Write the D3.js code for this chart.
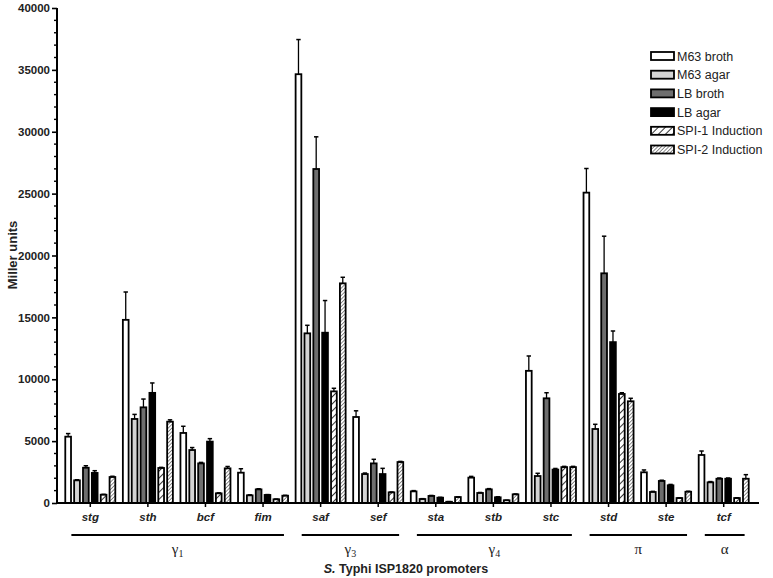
<!DOCTYPE html>
<html><head><meta charset="utf-8">
<script src="https://cdn.jsdelivr.net/npm/d3@7"></script>
<style>body{margin:0;background:#fff}svg{display:block}</style>
</head><body>
<svg id="chart" width="773" height="578"></svg>
<script>
const promoters = ["stg","sth","bcf","fim","saf","sef","sta","stb","stc","std","ste","tcf"];
const conditions = ["M63 broth","M63 agar","LB broth","LB agar","SPI-1 Induction","SPI-2 Induction"];
const m63Broth    = [5360, 14800, 5660, 2450, 34650, 6950,  940, 2050, 10680, 25080, 2480, 3880];
const m63BrothErr = [ 250,  2250,  540,  320,  2800,  500,   60,  100,  1200,  1950,  190,  320];
const m63Agar     = [1830,  6790, 4280,  620, 13710, 2340,  320,  810,  2180,  5980,  890, 1670];
const m63AgarErr  = [  50,   370,  200,   40,   650,   80,   30,   40,   220,   380,   50,   60];
const lbBroth     = [2850,  7730, 3200, 1100, 26990, 3200,  570, 1100,  8460, 18560, 1780, 1960];
const lbBrothErr  = [ 160,   670,   80,   50,  2600,  330,   40,   60,   450,  3000,   60,   60];
const lbAgar      = [2430,  8900, 4960,  650, 13760, 2340,  430,  460,  2700, 13000, 1430, 1960];
const lbAgarErr   = [ 180,   800,  240,   30,  2600,  460,   30,   40,    90,   900,   70,   60];
const spi1        = [ 670,  2830,  780,  300,  9020,  860,  100,  220,  2900,  8810,  400,  400];
const spi1Err     = [  30,    50,   40,   20,   250,   30,   10,   10,    60,   100,   20,   20];
const spi2        = [2100,  6570, 2800,  590, 17750, 3310,  480,  700,  2900,  8220,  910, 1960];
const spi2Err     = [  60,   150,  150,   30,   490,   50,   20,   30,    60,   240,   40,  330];
const families = [
  {name:"γ", sub:"1", from:"stg", to:"fim"},
  {name:"γ", sub:"3", from:"saf", to:"sef"},
  {name:"γ", sub:"4", from:"sta", to:"stc"},
  {name:"π", sub:"",  from:"std", to:"ste"},
  {name:"α", sub:"",  from:"tcf", to:"tcf"}
];
const yMajorTicks = [0,5000,10000,15000,20000,25000,30000,35000,40000];

const series = [m63Broth,m63Agar,lbBroth,lbAgar,spi1,spi2];
const errs = [m63BrothErr,m63AgarErr,lbBrothErr,lbAgarErr,spi1Err,spi2Err];

const svg = d3.select("#chart");
const defs = svg.append("defs");
function hatch(id, spacing, sw){
  const p = defs.append("pattern").attr("id",id).attr("patternUnits","userSpaceOnUse")
    .attr("width",spacing).attr("height",spacing).attr("patternTransform","rotate(45)");
  p.append("rect").attr("width",spacing).attr("height",spacing).attr("fill","#fff");
  p.append("line").attr("x1",0).attr("y1",0).attr("x2",0).attr("y2",spacing)
    .attr("stroke","#000").attr("stroke-width",sw);
}
hatch("h1",5,1.6);
hatch("h2",2.6,0.9);
const fills = ["#ffffff","#d4d4d4","#6e6e6e","#000000","url(#h1)","url(#h2)"];

const x0 = d3.scaleBand().domain(promoters).range([61.5,752.5]).paddingInner(0.1).paddingOuter(0.05);
const x1 = d3.scaleBand().domain(conditions).range([0,x0.bandwidth()]).paddingInner(0.15);
const y = d3.scaleLinear().domain([0,40000]).range([503,8]);

const sans = "'Liberation Sans', Arial, Helvetica, sans-serif";

// bars
const rows = [];
promoters.forEach((p,i)=>conditions.forEach((c,j)=>rows.push({p,c,j,v:series[j][i],e:errs[j][i]})));
const g = svg.append("g");
g.selectAll("rect.bar").data(rows).join("rect").attr("class","bar")
  .attr("x",d=>x0(d.p)+x1(d.c)+0.9).attr("width",x1.bandwidth()-1.8)
  .attr("y",d=>y(d.v)).attr("height",d=>y(0)-y(d.v))
  .attr("fill",d=>fills[d.j]).attr("stroke","#000").attr("stroke-width",1.8);
// error bars
const eg = g.selectAll("g.err").data(rows).join("g").attr("class","err");
eg.append("line").attr("x1",d=>x0(d.p)+x1(d.c)+x1.bandwidth()/2).attr("x2",d=>x0(d.p)+x1(d.c)+x1.bandwidth()/2)
  .attr("y1",d=>y(d.v)).attr("y2",d=>y(d.v+d.e)).attr("stroke","#000").attr("stroke-width",1.3);
eg.append("line").attr("x1",d=>x0(d.p)+x1(d.c)+x1.bandwidth()/2-2.2).attr("x2",d=>x0(d.p)+x1(d.c)+x1.bandwidth()/2+2.2)
  .attr("y1",d=>y(d.v+d.e)).attr("y2",d=>y(d.v+d.e)).attr("stroke","#000").attr("stroke-width",1.5);

// y axis
const minor = d3.range(0,40001,1000).filter(v=>v%5000!==0);
const ax = svg.append("g").attr("transform","translate(57,0)");
ax.call(d3.axisLeft(y).tickValues(yMajorTicks).tickSize(5).tickPadding(2).tickFormat(d3.format("d")));
ax.select(".domain").attr("stroke-width",2).attr("d",`M0,${y(40000)}V${y(0)}`);
ax.selectAll(".tick line").attr("stroke-width",1.6);
ax.selectAll(".tick text").attr("font-family",sans).attr("font-weight","bold").attr("font-size","11.5px").attr("fill","#222");
ax.selectAll("line.minor").data(minor).join("line").attr("class","minor")
  .attr("x1",-3).attr("x2",0).attr("y1",d=>y(d)).attr("y2",d=>y(d)).attr("stroke","#000").attr("stroke-width",1.4);

// x axis
const xa = svg.append("g").attr("transform",`translate(0,${y(0)})`);
xa.append("line").attr("x1",56).attr("x2",759).attr("stroke","#000").attr("stroke-width",2);
xa.selectAll("line.xt").data(promoters).join("line").attr("class","xt")
  .attr("x1",d=>x0(d)+x0.bandwidth()/2).attr("x2",d=>x0(d)+x0.bandwidth()/2)
  .attr("y1",0).attr("y2",4).attr("stroke","#000").attr("stroke-width",1.5);
xa.selectAll("text.xl").data(promoters).join("text").attr("class","xl")
  .attr("x",d=>x0(d)+x0.bandwidth()/2).attr("y",18).attr("text-anchor","middle")
  .attr("font-family",sans).attr("font-weight","bold").attr("font-style","italic").attr("font-size","11.5px").attr("fill","#222")
  .text(d=>d);

// family brackets
const fg = svg.selectAll("g.fam").data(families).join("g").attr("class","fam");
fg.append("line").attr("x1",d=>x0(d.from)+7).attr("x2",d=>x0(d.to)+x0.bandwidth()-5)
  .attr("y1",535).attr("y2",535).attr("stroke","#000").attr("stroke-width",2.2);
const ft = fg.append("text").attr("x",d=>(x0(d.from)+7+x0(d.to)+x0.bandwidth()-5)/2).attr("y",554)
  .attr("text-anchor","middle").attr("font-family","'Liberation Serif','Times New Roman',serif").attr("font-size","15px").attr("fill","#222");
ft.append("tspan").text(d=>d.name);
ft.append("tspan").attr("font-size","10px").attr("dy",2.5).text(d=>d.sub);

// axis titles
const xt = svg.append("text").attr("x",406).attr("y",573).attr("text-anchor","middle")
  .attr("font-family",sans).attr("font-weight","bold").attr("font-size","12.5px").attr("fill","#222");
xt.append("tspan").attr("font-style","italic").text("S.");
xt.append("tspan").text(" Typhi ISP1820 promoters");
svg.append("text").attr("transform","translate(17,255) rotate(-90)").attr("text-anchor","middle")
  .attr("font-family",sans).attr("font-weight","bold").attr("font-size","13px").attr("fill","#222").text("Miller units");

// legend
const lg = svg.append("g").attr("transform","translate(651,52)");
const li = lg.selectAll("g").data(conditions).join("g").attr("transform",(d,i)=>`translate(0,${i*18.7})`);
li.append("rect").attr("width",23).attr("height",8).attr("fill",(d,i)=>fills[i]).attr("stroke","#000").attr("stroke-width",1.8);
li.append("text").attr("x",26).attr("y",8.5).attr("font-family",sans).attr("font-size","12.5px").attr("fill","#222").text(d=>d);
</script>
</body></html>
